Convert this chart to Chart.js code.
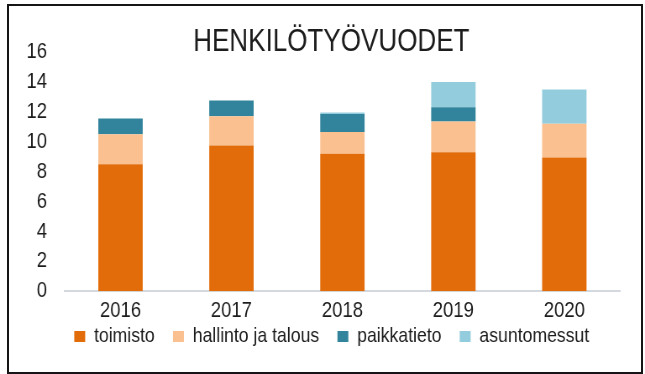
<!DOCTYPE html>
<html>
<head>
<meta charset="utf-8">
<script src="https://cdn.jsdelivr.net/npm/chart.js@4"></script>
<style>
  html, body { margin:0; padding:0; background:#fff; }
  #wrap { position:relative; width:645px; height:374px; overflow:hidden; }
  /* kapea teksti: piirretään leveämmälle kankaalle ja puristetaan vaakasuunnassa */
  #chart { position:absolute; left:0; top:0; transform:scaleX(0.83984); transform-origin:0 0; }
  #frame { position:absolute; left:7px; top:4px; width:632px; height:366px;
           border:2px solid #151515; pointer-events:none; }
</style>
</head>
<body>
<div id="wrap">
  <canvas id="chart" width="768" height="374"></canvas>
  <div id="frame"></div>
</div>
<script>
// Henkilötyövuodet yksiköittäin, pinottu pylväs
const years = ["2016", "2017", "2018", "2019", "2020"];
const toimisto = [8.5, 9.75, 9.2, 9.3, 8.95];
const hallinto = [2.0, 1.95, 1.45, 2.05, 2.25];
const paikkatieto = [1.05, 1.05, 1.2, 0.95, 0];
const asuntomessut = [0, 0, 0.1, 1.7, 2.3];
const yTicks = [0, 2, 4, 6, 8, 10, 12, 14, 16];

const FONT = "'Liberation Sans', Arial, sans-serif";
const TEXT = "#1c1c1c";

Chart.defaults.font.family = FONT;
Chart.defaults.color = TEXT;

const ds = (label, data, color) => ({
  label, data, backgroundColor: color, borderWidth: 0,
  categoryPercentage: 0.8, barPercentage: 0.5,
});

// otsikko ja selite hieman oikealle, selite lähemmäs akselia
const shiftBox = (b, dx, dy) => { b.left += dx; b.right += dx; b.top += dy; b.bottom += dy; };
const nudge = {
  id: "nudge",
  afterLayout(c) {
    shiftBox(c.titleBlock, 15.5, 0);
    shiftBox(c.legend, 16, -26);
  },
};

new Chart(document.getElementById("chart"), {
  type: "bar",
  data: {
    labels: years,
    datasets: [
      ds("toimisto", toimisto, "#e36c0a"),
      ds("hallinto ja talous", hallinto, "#fac08f"),
      ds("paikkatieto", paikkatieto, "#31849b"),
      ds("asuntomessut", asuntomessut, "#93cddd"),
    ],
  },
  options: {
    responsive: false,
    animation: false,
    layout: { padding: { left: 20, right: 30, top: 0, bottom: -9 } },
    scales: {
      x: {
        stacked: true,
        grid: { display: false, drawTicks: false },
        border: { color: "#d3d9df", width: 2 },
        ticks: { font: { size: 22, lineHeight: 1 }, padding: 8.5, color: TEXT },
      },
      y: {
        stacked: true,
        min: 0, max: 16,
        afterBuildTicks: (s) => { s.ticks = yTicks.map((v) => ({ value: v })); },
        grid: { display: false, drawTicks: false },
        border: { display: false },
        ticks: { font: { size: 22 }, padding: 21.4, color: TEXT, autoSkip: false },
        afterFit: (s) => { s.width = 57.4; },
      },
    },
    plugins: {
      title: {
        display: true,
        text: "HENKILÖTYÖVUODET",
        color: TEXT,
        font: { size: 31, weight: "normal", lineHeight: 1 },
        padding: { top: 27, bottom: -6 },
      },
      legend: {
        position: "bottom",
        labels: { font: { size: 21 }, boxWidth: 13, boxHeight: 11, padding: 21.7, color: TEXT },
      },
      tooltip: { enabled: false },
    },
  },
  plugins: [nudge],
});
</script>
</body>
</html>
